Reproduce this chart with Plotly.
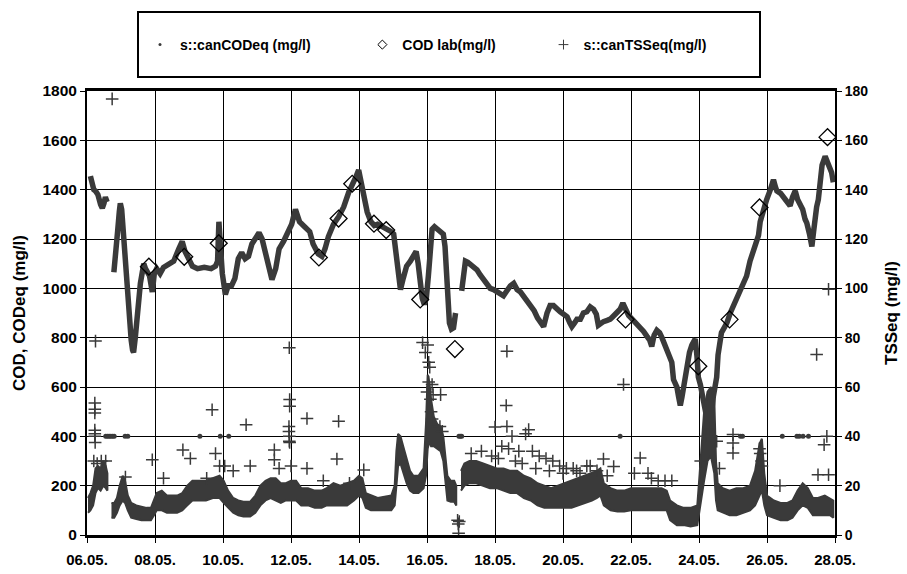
import pandas as pd
import plotly.graph_objects as go

# ---------------- data (time in days since 06.05. 00:00) ----------------
cod_scan_day = [0.10, 0.14, 0.20, 0.25, 0.32, 0.40, 0.45, 0.50, 0.54, 0.59, 0.68,
                0.79, 0.84, 0.90, 0.95, 0.98, 1.02, 1.06, 1.12, 1.18, 1.22, 1.26, 1.30,
                1.34, 1.37, 1.42, 1.47, 1.52, 1.57, 1.62, 1.67, 1.72, 1.78, 1.84, 1.92,
                1.98, 2.05, 2.15, 2.25, 2.40, 2.55, 2.70, 2.80, 2.88, 2.98, 3.10, 3.25,
                3.45, 3.65, 3.78, 3.84, 3.88, 3.92, 3.98, 4.07, 4.15, 4.25, 4.35, 4.45,
                4.55, 4.65, 4.75, 4.85, 4.98, 5.06, 5.15, 5.25, 5.35, 5.44, 5.55, 5.65,
                5.78, 5.92, 6.02, 6.13, 6.25, 6.40, 6.55, 6.65, 6.80, 6.91, 7.00, 7.10,
                7.25, 7.40, 7.55, 7.70, 7.82, 7.92, 7.99, 8.05, 8.12, 8.24, 8.35, 8.45,
                8.55, 8.70, 8.82, 8.95, 9.02, 9.08, 9.14, 9.22, 9.30, 9.40, 9.51, 9.62,
                9.68, 9.74, 9.80, 9.86, 9.92, 9.98, 10.04, 10.10, 10.15, 10.22, 10.30,
                10.40, 10.48, 10.53, 10.58, 10.62, 10.66, 10.72, 10.78, 10.84, 10.93,
                11.02, 11.08, 11.13, 11.20, 11.30, 11.40, 11.47, 11.56, 11.66, 11.76,
                11.86, 11.96, 12.06, 12.15, 12.25, 12.35, 12.45, 12.55, 12.65, 12.75,
                12.84, 12.95, 13.05, 13.15, 13.25, 13.33, 13.43, 13.53, 13.62, 13.72,
                13.82, 13.92, 14.02, 14.12, 14.20, 14.26, 14.34, 14.41, 14.51, 14.60,
                14.70, 14.80, 14.90, 14.98, 15.04, 15.12, 15.19, 15.30, 15.39, 15.50,
                15.58, 15.68, 15.76, 15.84, 15.93, 16.00, 16.07, 16.17, 16.27, 16.37,
                16.47, 16.55, 16.61, 16.68, 16.76, 16.84, 16.91, 16.98, 17.05, 17.12,
                17.20, 17.25, 17.30, 17.35, 17.40, 17.45, 17.50, 17.54, 17.60, 17.64,
                17.72, 17.79, 17.85, 17.89, 17.94, 17.98, 18.04, 18.10, 18.16, 18.22,
                18.28, 18.35, 18.42, 18.48, 18.52, 18.56, 18.60, 18.66, 18.74, 18.82,
                18.92, 19.01, 19.10, 19.21, 19.30, 19.40, 19.50, 19.60, 19.70, 19.75,
                19.80, 19.85, 19.92, 19.99, 20.10, 20.19, 20.25, 20.29, 20.40, 20.48,
                20.58, 20.68, 20.75, 20.83, 20.90, 20.97, 21.05, 21.12, 21.17, 21.25,
                21.32, 21.37, 21.41, 21.46, 21.51, 21.56, 21.62, 21.71, 21.78, 21.85,
                21.90, 21.95]
cod_scan_val = [1455, 1420, 1400, 1395, 1380, 1340, 1325, 1345, 1370, 1350, None,
                1065, 1120, 1230, 1310, 1345, 1320, 1240, 1150, 1050, 930, 820, 790,
                750, 740, 800, 880, 970, 1020, 1060, 1100, 1080, 1060, 1050, 985,
                1060, 1080, 1060, 1085, 1095, 1110, 1160, 1190, 1150, 1120, 1090, 1080,
                1085, 1080, 1090, 1110, 1270, 1180, 1060, 975, 1010, 1010, 1040, 1120,
                1145, 1120, 1130, 1180, 1210, 1225, 1200, 1140, 1080, 1035, 1080, 1160,
                1190, 1230, 1260, 1320, 1270, 1250, 1230, 1180, 1140, 1130, 1160, 1210,
                1260, 1290, 1330, 1390, 1420, 1455, 1480, 1440, 1380, 1310, 1270, 1255,
                1260, 1250, 1240, 1230, 1220, 1150, 1080, 995, 1040, 1090, 1110, 1130,
                1150, 1100, 1025, 960, 935, 960, 1050, 1170, 1240, 1250, 1240,
                1230, 1220, 1170, 1060, 950, 860, 835, 840, 900, None,
                990, 1060, 1110, 1105, 1095, 1085, 1075, 1055, 1035, 1015,
                1000, 995, 985, 980, 970, 990, 1010, 1020, 995, 985,
                970, 950, 930, 910, 880, 860, 845, 900, 930, 930,
                915, 905, 895, 885, 860, 845, 860, 875, 875, 900,
                905, 925, 915, 895, 850, 860, 865, 870, 875, 890,
                905, 915, 940, 915, 890, 880, 870, 860, 845, 825,
                805, 790, 765, 810, 830, 820, 800, 775, 750, 730,
                700, 630, 610, 600, 560, 525, 560, 600, 650, 690,
                740, 770, 790, 795, 725, 640, 610, 560, 520, 480,
                500, 470, 560, 600, 640, 730, 780, 820, 840, 860,
                900, 930, 950, 985, 1020, 1050, 1110, 1160, 1200, 1215,
                1270, 1300, 1330, 1360, 1400, 1440, 1410, 1395, 1385, 1370,
                1350, 1335, 1370, 1395, 1360, 1345, 1320, 1280, 1265, 1220,
                1170, 1230, 1295, 1330, 1360, 1455, 1500, 1535, 1510, 1490,
                1470, 1430]

# s::can COD readings pinned at 400 mg/l
cod_flag_day = [0.55, 0.60, 0.65, 0.70, 0.75, 0.80, 1.12, 1.20, 3.32, 3.92, 4.17,
                10.94, 10.98, 11.02, 15.68, 19.22, 19.28, 20.45, 20.88, 20.95,
                21.06, 21.22]
cod_flag_val = [400] * len(cod_flag_day)

cod_lab_day = [1.82, 2.86, 3.875, 6.82, 7.40, 7.80, 8.44, 8.80, 9.80, 10.82,
               15.84, 17.98, 18.90, 19.78, 21.78]
cod_lab_val = [1088, 1128, 1183, 1125, 1283, 1424, 1262, 1236, 955, 754,
               874, 684, 874, 1328, 1613]

# dense s::can TSS band: lower / upper edge of the cloud of readings
tss_day = [0.03, 0.10, 0.18, 0.25, 0.32, 0.40, 0.48, 0.55, 0.60, 0.66,
           0.72, 0.80, 0.88, 0.96, 1.05, 1.12, 1.20, 1.30, 1.45, 1.60, 1.75,
           1.88, 1.97, 2.05, 2.20, 2.35, 2.50, 2.65, 2.80, 2.95, 3.10, 3.30,
           3.50, 3.70, 3.90, 4.02, 4.15, 4.30, 4.45, 4.60, 4.80, 4.95, 5.10,
           5.25, 5.40, 5.55, 5.70, 5.85, 6.00, 6.15, 6.30, 6.50, 6.70, 6.90,
           7.05, 7.25, 7.45, 7.65, 7.85, 8.00, 8.10, 8.20, 8.35, 8.55, 8.75,
           8.95, 9.05, 9.10, 9.15, 9.22, 9.30, 9.40, 9.50, 9.60, 9.75, 9.90,
           9.97, 10.02, 10.07, 10.12, 10.20, 10.30, 10.40, 10.48, 10.54, 10.60,
           10.70, 10.80, 10.86, 10.93,
           11.00, 11.10, 11.25, 11.45, 11.65, 11.85, 12.05, 12.25, 12.45, 12.65,
           12.85, 13.05, 13.25, 13.45, 13.65, 13.85, 14.05, 14.25, 14.45, 14.65,
           14.85, 15.00, 15.10, 15.20, 15.40, 15.60, 15.80, 16.00, 16.20, 16.45,
           16.70, 16.90, 17.05, 17.15, 17.35, 17.55, 17.75, 17.95, 18.02, 18.08,
           18.15, 18.25, 18.35, 18.45, 18.50, 18.55, 18.70, 18.90, 19.10, 19.30,
           19.50, 19.65, 19.78, 19.85, 19.92, 20.00, 20.20, 20.40, 20.60, 20.75,
           20.90, 21.05, 21.20, 21.35, 21.50, 21.70, 21.85, 21.95]
tss_lo = [9, 10, 12, 17, 19, 18, 20, 19, 18, None,
          7, 7, 9, 12, 14, 13, 10, 7, 6.5, 6, 6,
          6, 8, 10, 10, 9, 9, 9, 10, 12, 14, 14,
          14, 15, 15, 13, 11, 9, 8, 7.5, 7.5, 9, 12,
          14, 15, 14, 13, 14, 14, 14, 12, 12, 11, 11,
          12, 12, 12, 12, 14, 16, 15, 11, 10, 10, 10,
          10, 12, 20, 28, 29, 25, 21, 18, 17, 17, 19,
          24, 35, 38, 36, 36, 35, 34, 30, 22, 14,
          13.5, 13.5, 12, None,
          18, 20, 21, 21, 20, 19, 19, 18, 17, 17,
          15, 14, 12, 11, 11, 11, 11, 11, 12, 13,
          14, 15, 16, 12, 10, 9.5, 9.5, 10, 10, 10,
          10, 10, 10, 6, 4, 4, 3.5, 4, 10, 15,
          22, 30, 32, 25, 14, 10, 9, 8, 8, 9,
          10, 12, 16, 18, 12, 8, 7, 6, 6, 7,
          10, 12, 11, 8, 8, 8, 8, 7]
tss_hi = [15, 17, 20, 27, 28, 27, 30, 28, 25, None,
          13, 13, 15, 20, 24, 22, 16, 13, 12, 11.5, 11,
          11, 14, 17, 18, 16, 16, 16, 17, 20, 22, 22,
          22, 23, 24, 22, 18, 15, 14, 13.5, 13.5, 16, 20,
          22, 23, 23, 21, 21, 22, 22, 19, 19, 18, 18,
          19, 21, 20, 21, 22, 24, 23, 17, 16, 15, 15.5,
          16, 20, 34, 41, 40, 36, 31, 26, 24, 24, 27,
          45, 65, 62, 55, 48, 45, 44, 40, 33, 24,
          22, 22, 20, None,
          26, 29, 30, 30, 29, 28, 27, 27, 26, 26,
          24, 23, 21, 20, 19, 20, 21, 22, 23, 24,
          25, 26, 27, 21, 19, 18, 18, 19, 19, 19,
          19, 19, 18, 14, 12, 11, 11, 12, 25, 38,
          50, 58, 60, 55, 30, 21, 19, 18, 19, 19,
          20, 26, 37, 39, 25, 16, 14, 13, 13, 14,
          18, 21, 19, 15, 15, 16, 15, 14]

tss_out_day = [0.74, 0.25, 0.23, 0.23, 0.23, 0.23, 0.23, 0.23, 0.24, 0.20, 0.30,
               0.42, 0.55, 1.13, 1.92, 2.25, 2.82, 3.04, 3.52, 3.68, 3.78, 3.90,
               4.05, 4.30, 4.68, 4.80, 5.51, 5.51, 5.65, 5.95, 5.96, 5.96, 5.94,
               5.94, 5.95, 5.95, 5.96, 6.00, 6.47, 6.47, 6.95, 7.35, 7.40, 7.72,
               8.14, 9.87, 9.95, 10.02, 10.05, 10.08, 10.05, 10.00, 10.10, 10.12,
               10.15, 10.18, 10.15, 10.40, 10.38, 10.45, 10.93, 10.90, 10.92, 10.95,
               12.35, 12.33,
               12.00, 12.35, 12.50, 12.99, 12.90, 12.20, 12.40, 12.70, 13.10, 13.30,
               13.50, 13.70, 13.90, 14.10, 14.30, 14.50, 14.70, 15.00, 15.19, 15.49,
               15.78, 16.10, 16.27, 16.50, 17.00, 17.20, 18.05, 18.20, 18.30, 18.52,
               18.60, 19.00, 19.00, 19.00, 19.78, 19.80, 19.84, 19.85, 20.38, 21.46,
               21.81, 21.76, 21.68, 21.50, 21.81,
               11.30, 11.60, 11.90, 12.10, 12.60, 12.80, 13.20, 13.60, 14.00, 14.40,
               14.80, 15.30, 16.60, 16.80]
tss_out_val = [176.8, 78.6, 53.5, 51.0, 49.5, 42.5, 41, 40, 37.5, 30, 29,
               30, 30, 23.5, 30.5, 23, 34.5, 31, 23, 50.8, 33, 28,
               28, 26, 44.7, 28, 34.5, 30.5, 27, 75.9, 54.9, 52.2, 44,
               42, 40, 38, 37.5, 28, 47.2, 27, 22, 30.8, 46.1, 21,
               26.4, 78, 74, 77, 70, 68, 62, 58, 55, 50,
               47, 56.9, 61, 56.9, 44, 42, 0.7, 6, 4.5, 5.5,
               74.5, 52.5,
               43.8, 44, 40, 42.7, 41, 36, 35, 34, 34, 32,
               31, 30, 28, 27, 27, 25, 28, 26, 30.8, 27.8,
               61, 25, 31.2, 25, 22, 22, 30, 40, 43, 38,
               27, 40.7, 37.3, 33.2, 35, 33, 30, 28, 20, 73.2,
               99.6, 40, 36.6, 24.4, 24.4,
               33, 34, 32, 31, 30, 29, 27, 26, 25, 26,
               28, 24, 23, 22]

left_ticks = list(range(0, 1801, 200))
right_ticks = list(range(0, 181, 20))

START = pd.Timestamp("2008-05-06")


def to_time(days):
    return [START + pd.Timedelta(days=d) for d in days]


def band_polygon(days, lo, hi):
    """Closed outline(s) of the band, one per unbroken run, split by None."""
    xs, ys = [], []
    run = []
    for d, a, b in list(zip(days, lo, hi)) + [(None, None, None)]:
        if a is None or b is None:
            if run:
                ds = [r[0] for r in run]
                xs += to_time(ds) + to_time(ds[::-1]) + [None]
                ys += [r[2] for r in run] + [r[1] for r in run][::-1] + [None]
            run = []
        else:
            run.append((d, a, b))
    return xs, ys


INK = "#3a3a3a"
FONT = "Liberation Sans"

fig = go.Figure()

fig.add_trace(go.Scatter(
    x=to_time(cod_scan_day), y=cod_scan_val, mode="lines",
    line=dict(color=INK, width=5.5), connectgaps=False,
    showlegend=False, legendgroup="cod", hoverinfo="skip"))
fig.add_trace(go.Scatter(
    x=to_time(cod_flag_day), y=cod_flag_val, mode="markers",
    marker=dict(symbol="circle", size=5, color=INK),
    showlegend=False, legendgroup="cod"))
fig.add_trace(go.Scatter(
    x=to_time(cod_lab_day), y=cod_lab_val, mode="markers",
    marker=dict(symbol="diamond-open", size=13, color="black",
                line=dict(width=1.3, color="black")),
    showlegend=False, legendgroup="lab"))

bx, by = band_polygon(tss_day, tss_lo, tss_hi)
fig.add_trace(go.Scatter(
    x=bx, y=by, mode="lines", yaxis="y2", fill="toself",
    fillcolor=INK, line=dict(color=INK, width=2),
    showlegend=False, legendgroup="tss", hoverinfo="skip"))
fig.add_trace(go.Scatter(
    x=to_time(tss_out_day), y=tss_out_val, mode="markers", yaxis="y2",
    marker=dict(symbol="cross-thin", size=9, color=INK,
                line=dict(width=1.5, color=INK)),
    showlegend=False, legendgroup="tss"))

# legend-only entries
fig.add_trace(go.Scatter(
    x=[None], y=[None], mode="markers", legendgroup="cod",
    name="s::canCODeq (mg/l)" + "\u00a0" * 12,
    marker=dict(symbol="circle", size=3, color=INK)))
fig.add_trace(go.Scatter(
    x=[None], y=[None], mode="markers", legendgroup="lab",
    name="COD lab(mg/l)" + "\u00a0" * 11,
    marker=dict(symbol="diamond-open", size=7, color="black",
                line=dict(width=1, color="black"))))
fig.add_trace(go.Scatter(
    x=[None], y=[None], mode="markers", legendgroup="tss",
    name="s::canTSSeq(mg/l)",
    marker=dict(symbol="cross-thin", size=7, color=INK,
                line=dict(width=1, color=INK))))

L, R, T, B = 87, 72, 91, 39
W, H = 907, 574
pw, ph = W - L - R, H - T - B


def px_x(p):
    return (p - L) / pw


def px_y(p):
    return (H - B - p) / ph


fig.update_layout(
    width=W, height=H,
    margin=dict(l=L, r=R, t=T, b=B, pad=0, autoexpand=False),
    paper_bgcolor="white", plot_bgcolor="white",
    font=dict(family=FONT, color="black", weight="bold"),
    showlegend=True,
    legend=dict(orientation="h", x=px_x(140), xanchor="left",
                y=px_y(45), yanchor="middle",
                font=dict(size=14, family=FONT, weight="bold"),
                bgcolor="rgba(0,0,0,0)", borderwidth=0,
                itemclick=False, itemdoubleclick=False),
    xaxis=dict(
        type="date", automargin=False,
        range=[START, START + pd.Timedelta(days=22)],
        tick0=START, dtick=2 * 86400000, tickformat="%d.%m.",
        showgrid=True, gridcolor="black", gridwidth=1,
        showline=True, linecolor="black", linewidth=2.5, mirror=True,
        ticks="outside", ticklen=5, tickwidth=1, tickcolor="black",
        tickfont=dict(size=15, family=FONT, weight="bold"),
        ticklabelstandoff=4, zeroline=False),
    yaxis=dict(
        range=[0, 1800], tickvals=left_ticks, automargin=False,
        showgrid=True, gridcolor="black", gridwidth=1,
        showline=True, linecolor="black", linewidth=2, mirror=False,
        ticks="outside", ticklen=5, tickwidth=1, tickcolor="black",
        tickfont=dict(size=15.5, family=FONT, weight="bold"),
        zeroline=False,
        title=dict(text="COD, CODeq (mg/l)", standoff=12,
                   font=dict(size=17, family=FONT, weight="bold"))),
    yaxis2=dict(
        range=[0, 180], tickvals=right_ticks, overlaying="y", side="right",
        automargin=False,
        showgrid=False, showline=True, linecolor="black", linewidth=2,
        ticks="outside", ticklen=5, tickwidth=1, tickcolor="black",
        tickfont=dict(size=14, family=FONT, weight="bold"),
        zeroline=False,
        title=dict(text="TSSeq (mg/l)", standoff=18,
                   font=dict(size=17, family=FONT, weight="bold"))),
    shapes=[dict(type="rect", xref="paper", yref="paper",
                 x0=px_x(138), x1=px_x(760), y0=px_y(77), y1=px_y(12),
                 line=dict(color="black", width=2), fillcolor="rgba(0,0,0,0)",
                 layer="above")],
)

fig.write_html("out.html")
